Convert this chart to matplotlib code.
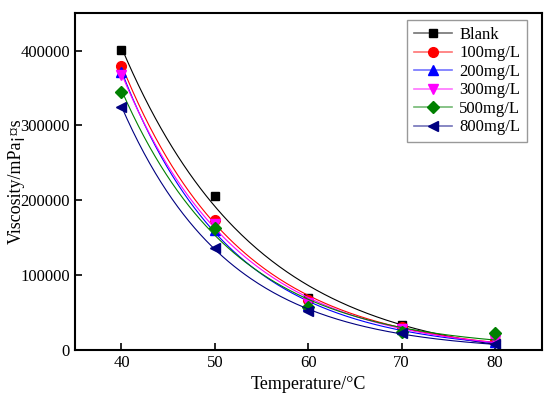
import numpy as np
import matplotlib
matplotlib.use("Agg")
import matplotlib.pyplot as plt
from matplotlib.lines import Line2D
from matplotlib.colors import to_rgba

plt.rcParams['font.family'] = ['Liberation Serif', 'DejaVu Serif']

temps = np.array([40, 50, 60, 70, 80])
labels = ['Blank', '100mg/L', '200mg/L', '300mg/L', '500mg/L', '800mg/L']
blank = [401000, 206000, 69000, 33000, 14000]
c100 = [380000, 173000, 67000, 30000, 12000]
c200 = [372000, 160000, 60000, 28000, 10000]
c300 = [368000, 168000, 63000, 28000, 13000]
c500 = [345000, 163000, 57000, 24000, 22000]
c800 = [325000, 136000, 52000, 22000, 8000]
series = [blank, c100, c200, c300, c500, c800]
colors = ['black', 'red', 'blue', 'magenta', 'green', 'navy']
markers = ['s', 'o', '^', 'v', 'D', '<']
msizes = [6, 7, 7, 7, 6, 7]


def expdec_fit(x, y):
	# y = a*exp(-k*(x-40)) + c, grid search over k, linear least squares for a, c
	best = None
	for k in np.linspace(0.01, 0.3, 2000):
		e = np.exp(-k*(x-40))
		M = np.column_stack([e, np.ones_like(e)])
		coef = np.linalg.lstsq(M, y, rcond=None)[0]
		err = np.sum((M.dot(coef)-y)**2)
		if best is None or err < best[0]:
			best = (err, k, coef)
	return best[1], best[2]


fig = plt.figure(figsize=(5.5, 3.99), dpi=100)
ax = fig.add_axes([0.136, 0.123, 0.849, 0.844])

xs = np.linspace(40, 80, 200)
handles = []
for y, c, m, ms, lab in zip(series, colors, markers, msizes, labels):
	y = np.array(y, dtype=float)
	k, coef = expdec_fit(temps.astype(float), y)
	ax.plot(xs, coef[0]*np.exp(-k*(xs-40)) + coef[1], color=c, lw=0.8)
	ax.plot(temps, y, linestyle='none', marker=m, ms=ms, color=c)
	handles.append(Line2D([], [], color=to_rgba(c, 0.55), lw=1.2, marker=m, ms=ms,
		markerfacecolor=c, markeredgecolor=c))

ax.set_xlim(35, 85)
ax.set_ylim(0, 450000)
ax.set_xticks([40, 50, 60, 70, 80])
ax.set_yticks([0, 100000, 200000, 300000, 400000])
ax.tick_params(direction='in', length=5, width=1.2, labelsize=12, top=False, right=False)
for s in ax.spines.values():
	s.set_linewidth(1.5)
ax.set_xlabel('Temperature/°C', fontsize=13)
ax.set_ylabel('Viscosity/mPa¡¤s', fontsize=13)
ax.yaxis.set_label_coords(-0.107, 0.5)

leg = ax.legend(handles, labels, loc='upper right', bbox_to_anchor=(0.968, 0.979),
	borderaxespad=0, fontsize=12, fancybox=False, edgecolor='gray', handlelength=2.3,
	borderpad=0.4, labelspacing=0.15, handletextpad=0.4)
leg.get_frame().set_linewidth(1.0)

fig.savefig('out.png', dpi=100)
